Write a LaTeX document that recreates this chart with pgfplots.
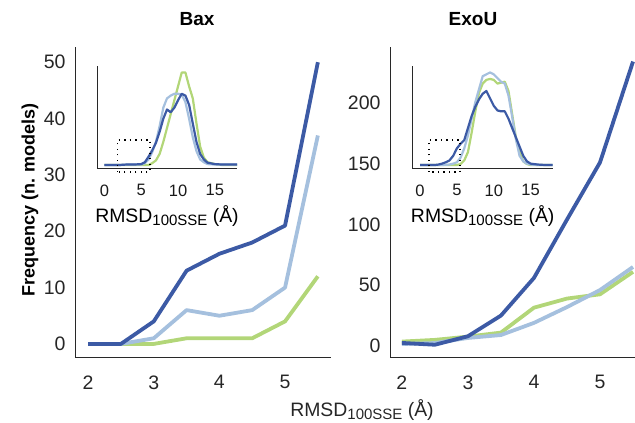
\documentclass[border=0pt]{standalone}
\usepackage{pgfplots}
\pgfplotsset{compat=1.18}
\usepackage{fontspec}
\setmainfont{Liberation Sans}
\definecolor{dblue}{RGB}{60,90,165}
\definecolor{lblue}{RGB}{165,192,222}
\definecolor{lgreen}{RGB}{178,214,120}
\definecolor{axgray}{RGB}{40,40,40}
\newcommand{\rmsdlabel}{RMSD\raisebox{-0.3ex}{\fontsize{15}{16}\selectfont 100SSE} (Å)}
\tikzset{zoombox/.style={black, line width=1.3pt, dash pattern=on 1.3pt off 4.2pt}}
\pgfplotsset{
  mainax/.style={scale only axis, width=256pt, height=311pt,
    axis x line*=bottom, axis y line*=left,
    axis line style={axgray, line width=1pt},
    major tick length=0pt,
    tick label style={font=\fontsize{19.5}{21}\selectfont, text=black!85},
    /pgf/number format/assume math mode=true,
    xtick={2,3,4,5},
    xticklabel style={yshift=-14pt}, yticklabel style={xshift=-6pt},
    every axis plot/.append style={line width=3.8pt, line join=round}},
  insax/.style={scale only axis, width=140pt, height=103pt,
    axis x line*=bottom, axis y line*=left,
    axis line style={axgray, line width=1pt},
    major tick length=0pt, ytick=\empty, xtick={0,5,10,15},
    xmin=-1, xmax=18, ymin=-4.3, ymax=107, clip=false,
    tick label style={font=\fontsize{16.5}{18}\selectfont, text=black!90},
    /pgf/number format/assume math mode=true,
    xticklabel style={yshift=-12pt},
    xlabel={\rmsdlabel},
    xlabel style={font=\fontsize{19.4}{21}\selectfont, yshift=-2pt},
    every axis plot/.append style={line width=2.2pt, line join=round}}
}
\begin{document}
\begin{tikzpicture}[x=1pt,y=1pt]
\path[use as bounding box] (0,0) rectangle (635,423);
% ---------------- Bax main
\begin{axis}[mainax, at={(75pt,65pt)}, anchor=south west,
  xmin=1.8, xmax=5.7, ymin=-2.5, ymax=52.7, ytick={0,10,20,30,40,50}]
\addplot[lgreen] coordinates {(2,0)(2.5,0)(3,0)(3.5,1)(4,1)(4.5,1)(5,4)(5.5,12)};
\addplot[lblue] coordinates {(2,0)(2.5,0)(3,1)(3.5,6)(4,5)(4.5,6)(5,10)(5.5,37)};
\addplot[dblue] coordinates {(2,0)(2.5,0)(3,4)(3.5,13)(4,16)(4.5,18)(5,21)(5.5,50)};
\end{axis}
% ---------------- ExoU main
\begin{axis}[mainax, at={(390pt,65pt)}, anchor=south west, width=245pt,
  xmin=1.82, xmax=5.53, ymin=-9.9, ymax=246, ytick={0,50,100,150,200}]
\addplot[lgreen] coordinates {(2,3.6)(2.5,5)(3,7.7)(3.5,11)(4,31.5)(4.5,39)(5,42.5)(5.5,61)};
\addplot[lblue] coordinates {(2,1.6)(2.5,2.4)(3,6.6)(3.5,9)(4,19)(4.5,32)(5,46)(5.5,65)};
\addplot[dblue] coordinates {(2,2.5)(2.5,1)(3,8)(3.5,25)(4,56)(4.5,104)(5,151)(5.5,234)};
\end{axis}
% ---------------- Bax inset
\begin{axis}[insax, at={(97pt,254pt)}, anchor=south west]
\addplot[lgreen] coordinates {(0,0)(1,0)(2,0)(3,0)(4,0)(5,0)(6,0)(6.5,2)(7,5)(7.5,12)(8,25)(8.5,40)(9,55)(9.5,70)(10,85)(10.5,100)(11,100)(11.5,85)(12,72)(12.5,45)(13,20)(13.5,8)(14,3)(15,1)(16,0)(17,0)(18,0)};
\addplot[lblue] coordinates {(0,0)(1,0)(2,0)(3,0.5)(4,0.5)(5,0.5)(5.5,2)(6,6)(6.5,14)(7,25)(7.5,42)(8,62)(8.5,72)(9,75)(9.5,77)(10,77)(10.5,76)(11,68)(11.5,50)(12,30)(12.5,15)(13,6)(13.5,3)(14,1)(15,0.5)(16,0.5)(17,0.5)(18,0.5)};
\addplot[dblue] coordinates {(0,0)(1,0)(2,0)(3,0.5)(4,0.5)(5,1)(5.5,3)(6,9)(6.5,16)(7,24)(7.5,36)(8,50)(8.5,60)(9,57)(9.5,62)(10,70)(10.5,77)(11,75)(11.5,65)(12,45)(12.5,25)(13,12)(13.5,6)(14,2.5)(15,1)(16,0.5)(17,0.5)(18,0.5)};
\draw[zoombox] (axis cs:1.8,-7.5) rectangle (axis cs:6.2,27);
\end{axis}
% ---------------- ExoU inset
\begin{axis}[insax, at={(412.7pt,254pt)}, anchor=south west]
\addplot[lgreen] coordinates {(0,0)(5,0)(5.5,1)(6,5)(6.5,14)(7,35)(7.5,58)(8,78)(8.5,88)(9,92)(9.5,93)(10,92)(10.5,88)(11,89)(11.5,90)(12,80)(12.5,55)(13,30)(13.5,14)(14,4)(14.5,1)(15,0)(18,0)};
\addplot[lblue] coordinates {(0,0)(3,0)(4,0.5)(4.5,1.5)(5,3)(5.5,8)(6,18)(6.5,32)(7,50)(7.5,68)(8,82)(8.5,96)(9,98)(9.5,100)(10,98)(10.5,94)(11,90)(11.5,88)(12,75)(12.5,52)(13,28)(13.5,10)(14,4)(14.5,1.5)(15,0.5)(16,0)(18,0)};
\addplot[dblue] coordinates {(0,0)(1,0)(2,0)(2.5,0.5)(3,1.5)(3.5,3)(4,5)(4.5,10)(5,18)(5.5,23)(6,27)(6.5,40)(7,53)(7.5,63)(8,71)(8.5,77)(9,80)(9.5,72)(10,64)(10.5,59)(11,58)(11.5,58)(12,50)(12.5,40)(13,30)(13.5,20)(14,10)(14.5,4)(15,1.5)(16,0.5)(17,0)(18,0)};
\draw[zoombox] (axis cs:1.2,-7.5) rectangle (axis cs:5.4,27);
\end{axis}
% ---------------- titles and labels
\node[font=\fontsize{19}{21}\selectfont\bfseries] at (197,404) {Bax};
\node[font=\fontsize{19}{21}\selectfont\bfseries] at (473,404) {ExoU};
\node[font=\fontsize{18}{20}\selectfont\bfseries, rotate=90] at (30,223) {Frequency (n. models)};
\node[font=\fontsize{19.4}{21}\selectfont, text=black!85] at (362,13) {\rmsdlabel};
\end{tikzpicture}
\end{document}
